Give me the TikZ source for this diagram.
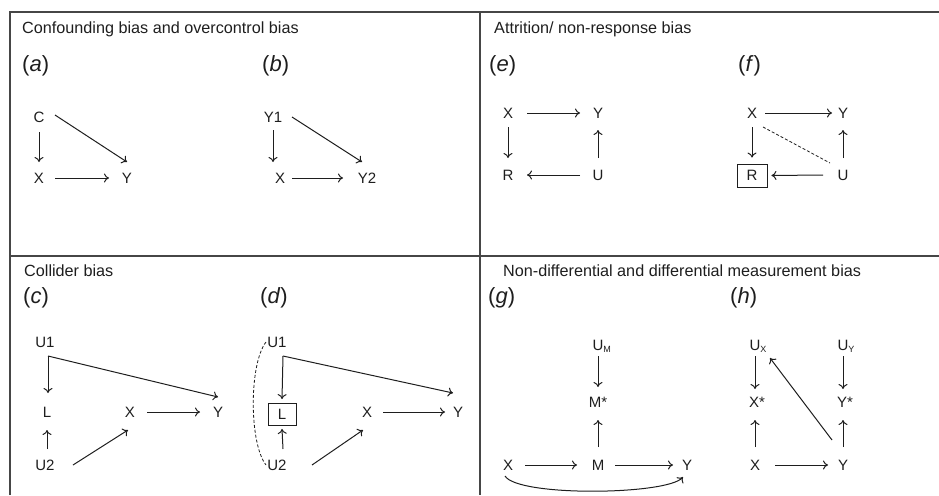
\documentclass[tikz,border=0pt]{standalone}
\usepackage{fontspec}
\setmainfont{Liberation Sans}
\usetikzlibrary{arrows.meta,calc}
\definecolor{framegray}{RGB}{70,70,70}
\definecolor{ink}{RGB}{30,30,30}
\newcommand\subsc[1]{\rlap{\smash{\raisebox{-2.5pt}{\fontsize{9}{9}\selectfont #1}}}}
\begin{document}
\begin{tikzpicture}[x=1pt,y=-1pt,
  frame/.style={draw=framegray,line width=1.6pt},
  var/.style={inner sep=0pt,font=\fontsize{15}{18}\selectfont,text=ink},
  ttl/.style={anchor=west,inner sep=0pt,font=\fontsize{16.2}{19}\selectfont,text=ink},
  lbl/.style={anchor=west,inner sep=0pt,font=\fontsize{22}{26}\selectfont,text=ink},
  arr/.style={draw=ink,line width=1pt,-{To[length=5pt,width=9pt]}},
  boxed/.style={draw=ink,line width=0.9pt,minimum width=30pt,minimum height=23pt},
  dsh/.style={draw=ink,line width=0.8pt,dash pattern=on 3pt off 2pt}]
\useasboundingbox (0,0) rectangle (939,495);
% frame
\draw[frame] (10,495) -- (10,12) -- (939,12);
\draw[frame] (480,12) -- (480,495);
\draw[frame] (10,256) -- (939,256);
% titles
\node[ttl] (t1) at (22,29) {Confounding bias and overcontrol bias};
\node[ttl] (t2) at (494,29) {Attrition/ non-response bias};
\node[ttl] (t3) at (24,271) {Collider bias};
\node[ttl] (t4) at (503,271) {Non-differential and differential measurement bias};
% panel labels
\node[lbl] (la) at (22,66) {(\textit{a})};
\node[lbl] (lb) at (262,66) {(\textit{b})};
\node[lbl] (le) at (489,66) {(\textit{e})};
\node[lbl] (lf) at (738,66) {(\textit{f})};
\node[lbl] (lc) at (23,298) {(\textit{c})};
\node[lbl] (ld) at (260,298) {(\textit{d})};
\node[lbl] (lg) at (488,298) {(\textit{g})};
\node[lbl] (lh) at (730,298) {(\textit{h})};
% ---- panel a
\node[var] (aC) at (39,117) {C};
\node[var] (aX) at (39,178) {X};
\node[var] (aY) at (127,178) {Y};
\draw[arr] ($(aC)+(0,15)$) -- ($(aX)+(0,-16)$);
\draw[arr] ($(aX)+(16,0)$) -- ($(aY)+(-18,0)$);
\draw[arr] ($(aC)+(16,-2)$) -- ($(aY)+(0,-16)$);
% ---- panel b
\node[var] (bY1) at (273,117) {Y1};
\node[var] (bX) at (280,178) {X};
\node[var] (bY2) at (367,178) {Y2};
\draw[arr] ($(bY1)+(0,13)$) -- ($(bX)+(-7,-16)$);
\draw[arr] ($(bY1)+(19,0)$) -- ($(bY2)+(-5,-16)$);
\draw[arr] ($(bX)+(12,0)$) -- ($(bY2)+(-24,0)$);
% ---- panel e
\node[var] (eX) at (508,113) {X};
\node[var] (eY) at (598,113) {Y};
\node[var] (eR) at (508,175) {R};
\node[var] (eU) at (598,175) {U};
\draw[arr] ($(eX)+(19,0)$) -- ($(eY)+(-18,0)$);
\draw[arr] ($(eX)+(0,14)$) -- ($(eR)+(0,-17)$);
\draw[arr] ($(eU)+(0,-17)$) -- ($(eY)+(0,17)$);
\draw[arr] ($(eU)+(-18,0)$) -- ($(eR)+(19,0)$);
% ---- panel f
\node[var] (fX) at (752,113) {X};
\node[var] (fY) at (843,113) {Y};
\node[var,boxed] (fR) at (752,175.5) {R};
\node[var] (fU) at (843,175) {U};
\draw[arr] ($(fX)+(13,0)$) -- ($(fY)+(-11,0)$);
\draw[arr] ($(fX)+(0,14)$) -- ($(fR.north)+(0,-6)$);
\draw[arr] ($(fU)+(0,-17)$) -- ($(fY)+(0,17)$);
\draw[arr] ($(fU)+(-20,0)$) -- ($(fR.east)+(4,0)$);
\draw[dsh] ($(fX)+(11,14)$) -- ($(fU)+(-13,-12)$);
% ---- panel c
\node[var] (cU1) at (45,342) {U1};
\node[var] (cL) at (47,412) {L};
\node[var] (cX) at (130,412) {X};
\node[var] (cY) at (218,412) {Y};
\node[var] (cU2) at (45,465) {U2};
\draw[arr] ($(cU1)+(3,14)$) -- ($(cL)+(1,-19)$);
\draw[arr] ($(cU1)+(3,14)$) -- ($(cY)+(0,-15)$);
\draw[arr] ($(cU2)+(2,-16)$) -- ($(cL)+(0,18)$);
\draw[arr] ($(cU2)+(28,0)$) -- ($(cX)+(-2,18)$);
\draw[arr] ($(cX)+(17,0)$) -- ($(cY)+(-18,0)$);
% ---- panel d
\node[var] (dU1) at (277,342) {U1};
\node[var,boxed,minimum width=28pt,minimum height=22pt] (dL) at (282,414.5) {L};
\node[var] (dX) at (367,412) {X};
\node[var] (dY) at (458,412) {Y};
\node[var] (dU2) at (277,465) {U2};
\draw[arr] ($(dU1)+(6,14)$) -- ($(dL.north)+(0,-4)$);
\draw[arr] ($(dU1)+(6,14)$) -- ($(dY)+(-5,-19)$);
\draw[arr] ($(dU2)+(6,-16)$) -- ($(dL.south)+(0,3)$);
\draw[arr] ($(dU2)+(35,0)$) -- ($(dX)+(-4,18)$);
\draw[arr] ($(dX)+(16,0)$) -- ($(dY)+(-13,0)$);
\draw[dsh] ($(dU1)+(-11,0)$) .. controls ($(dU1)+(-28,22)$) and ($(dU2)+(-28,-22)$) .. ($(dU2)+(-11,0)$);
% ---- panel g
\node[var] (gUM) at (598,345) {U\subsc{M}};
\node[var] (gMs) at (598,402) {M*};
\node[var] (gX) at (508,465) {X};
\node[var] (gM) at (598,465) {M};
\node[var] (gY) at (687,465) {Y};
\draw[arr] ($(gUM)+(0,11)$) -- ($(gMs)+(0,-15)$);
\draw[arr] ($(gM)+(0,-18)$) -- ($(gMs)+(0,18)$);
\draw[arr] ($(gX)+(17,0)$) -- ($(gM)+(-21,0)$);
\draw[arr] ($(gM)+(17,0)$) -- ($(gY)+(-14,0)$);
\draw[arr] ($(gX)+(-3,11)$) .. controls ($(gX)+(10,32)$) and ($(gY)+(-20,30)$) .. ($(gY)+(-4,12)$);
% ---- panel h
\node[var] (hUX) at (755,345) {U\subsc{X}};
\node[var] (hUY) at (843,345) {U\subsc{Y}};
\node[var] (hXs) at (757,402) {X*};
\node[var] (hYs) at (845,402) {Y*};
\node[var] (hX) at (755,465) {X};
\node[var] (hY) at (843,465) {Y};
\draw[arr] ($(hUX)+(0,11)$) -- ($(hXs)+(-2,-13)$);
\draw[arr] ($(hUY)+(0,11)$) -- ($(hYs)+(-2,-13)$);
\draw[arr] ($(hX)+(0,-18)$) -- ($(hXs)+(-2,18)$);
\draw[arr] ($(hY)+(0,-18)$) -- ($(hYs)+(-2,18)$);
\draw[arr] ($(hX)+(20,0)$) -- ($(hY)+(-15,0)$);
\draw[arr] ($(hY)+(-11,-25)$) -- ($(hUX)+(15,13)$);
\end{tikzpicture}
\end{document}
